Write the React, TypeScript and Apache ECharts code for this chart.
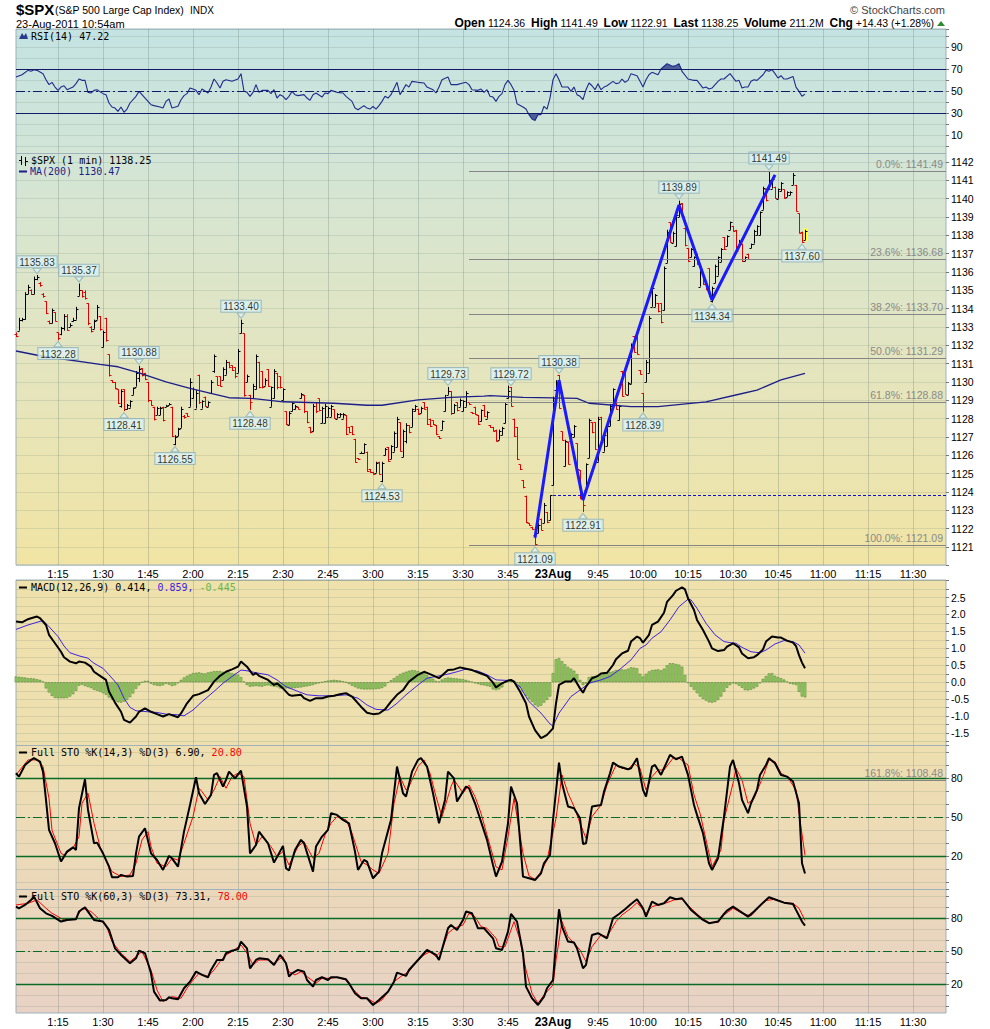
import React, { useEffect, useRef } from "react";
import * as echarts from "echarts";

const FONT = "'Liberation Sans', Arial, sans-serif";
const MONO = "'DejaVu Sans Mono', monospace";

// ---- time slots (1-minute) ----
const DAY1_START = 13 * 60 + 1; // 1:01 pm, Aug 22
const DAY1_BARS = 179; // 1:01 .. 3:59
const DAY2_START = 9 * 60 + 30; // 9:30 am, Aug 23
const N_SLOTS = 311; // through 11:41
const CATEGORIES: string[] = [];
for (let i = 0; i < N_SLOTS; i++) {
  const m = i < DAY1_BARS ? DAY1_START + i : DAY2_START + (i - DAY1_BARS);
  let h = Math.floor(m / 60);
  if (h > 12) h -= 12;
  CATEGORIES.push(h + ":" + String(m % 60).padStart(2, "0"));
}
const DAY_BREAK_INDEX = 179;
const DAY_BREAK_LABEL = "23Aug";

// ---- price bars [open, high, low, close] ----
const PRICE_BARS: number[][] = [
  [1132.6,1132.7,1132.45,1132.5],[1132.8,1133.5,1132.8,1133.4],[1133.4,1133.5,1133.3,1133.45],[1133.45,1134.9,1133.4,1134.8],[1134.8,1135.3,1134.8,1135.2],
  [1135.0,1135.05,1134.75,1134.8],[1134.8,1135.75,1134.8,1135.6],[1135.6,1135.83,1135.55,1135.7],[1135.4,1135.45,1135.2,1135.3],[1134.8,1134.85,1134.6,1134.7],
  [1134.4,1134.4,1133.7,1133.75],[1133.3,1133.35,1133.15,1133.2],[1133.2,1134.0,1133.2,1133.9],[1133.8,1133.8,1133.3,1133.35],[1132.7,1132.7,1132.28,1132.4],
  [1132.6,1133.0,1132.55,1132.95],[1132.95,1133.7,1132.8,1133.6],[1133.6,1133.7,1132.8,1132.85],[1133.0,1133.2,1133.0,1133.1],[1133.3,1133.5,1133.3,1133.4],
  [1133.4,1134.1,1133.4,1134.0],[1134.7,1135.37,1134.7,1135.0],[1135.0,1135.0,1134.6,1134.7],[1134.9,1135.0,1134.5,1134.6],[1134.3,1134.3,1133.1,1133.2],
  [1133.0,1133.05,1132.7,1132.8],[1132.9,1133.4,1132.9,1133.3],[1133.4,1134.2,1133.4,1134.1],[1133.6,1133.6,1132.8,1132.9],[1131.9,1132.8,1131.9,1132.7],
  [1133.5,1133.5,1132.2,1132.3],[1131.5,1131.5,1130.3,1130.4],[1130.1,1130.1,1129.95,1130.0],[1130.0,1130.0,1129.6,1129.65],[1129.6,1129.6,1128.8,1128.85],
  [1128.7,1129.6,1128.6,1129.5],[1129.6,1129.6,1128.41,1128.5],[1128.5,1128.8,1128.5,1128.75],[1128.6,1129.0,1128.6,1128.95],[1129.3,1129.7,1129.3,1129.65],
  [1129.75,1130.6,1129.75,1130.5],[1130.2,1130.88,1130.0,1130.7],[1130.75,1130.75,1130.3,1130.4],[1130.5,1130.5,1130.1,1130.15],[1130.0,1130.0,1128.9,1129.0],
  [1129.0,1129.0,1128.7,1128.75],[1128.65,1128.65,1127.9,1128.0],[1128.2,1128.65,1128.2,1128.6],[1128.2,1128.65,1128.2,1128.6],[1128.65,1128.65,1127.85,1127.9],
  [1128.65,1128.75,1128.65,1128.7],[1128.75,1128.85,1128.75,1128.8],[1128.65,1128.65,1127.0,1127.05],[1126.6,1127.1,1126.55,1127.0],[1127.05,1127.5,1127.05,1127.45],
  [1127.5,1128.65,1127.5,1128.5],[1128.15,1128.2,1128.0,1128.1],[1128.3,1128.3,1128.1,1128.15],[1128.65,1130.2,1128.65,1130.0],[1129.1,1129.7,1129.1,1129.6],
  [1128.55,1129.55,1128.55,1129.4],[1130.4,1130.4,1128.8,1128.9],[1128.55,1129.0,1128.55,1128.95],[1129.2,1129.2,1128.65,1128.7],[1128.65,1128.95,1128.65,1128.9],
  [1129.4,1130.1,1129.4,1130.0],[1130.6,1131.5,1130.5,1131.4],[1130.3,1130.3,1129.8,1129.85],[1130.3,1130.3,1129.75,1129.8],[1130.1,1130.8,1130.1,1130.7],
  [1130.4,1131.2,1130.4,1131.1],[1131.1,1131.1,1130.75,1130.8],[1130.9,1130.9,1130.6,1130.65],[1130.8,1130.8,1130.2,1130.3],[1130.5,1131.8,1130.5,1131.7],
  [1132.65,1133.4,1132.65,1133.2],[1132.65,1132.65,1129.2,1129.3],[1130.0,1130.4,1130.0,1130.3],[1129.3,1129.3,1128.48,1128.9],[1129.1,1129.9,1129.1,1129.8],
  [1129.6,1131.5,1129.6,1131.4],[1131.1,1131.1,1129.65,1129.7],[1130.6,1130.6,1129.65,1129.7],[1129.8,1130.2,1129.8,1130.1],[1130.7,1130.7,1129.75,1129.8],
  [1128.65,1129.75,1128.65,1129.7],[1129.1,1130.7,1129.1,1130.6],[1130.5,1130.5,1129.6,1129.7],[1130.3,1130.3,1129.65,1129.7],[1129.0,1129.65,1129.0,1129.6],
  [1128.4,1128.4,1127.65,1127.7],[1127.65,1128.4,1127.65,1128.3],[1128.4,1128.9,1128.4,1128.85],[1128.5,1128.75,1128.5,1128.7],[1128.65,1128.65,1128.5,1128.55],
  [1129.1,1129.4,1129.1,1129.35],[1129.3,1129.3,1128.3,1128.4],[1128.4,1128.4,1127.75,1127.8],[1127.55,1127.55,1127.2,1127.25],[1127.3,1128.8,1127.3,1128.7],
  [1128.9,1128.9,1128.3,1128.4],[1129.1,1129.1,1128.4,1128.45],[1127.75,1128.65,1127.75,1128.6],[1127.75,1128.8,1127.75,1128.7],[1128.1,1128.65,1128.1,1128.6],
  [1128.1,1128.75,1128.1,1128.7],[1128.5,1128.5,1128.0,1128.05],[1128.0,1128.3,1128.0,1128.25],[1128.1,1128.3,1128.1,1128.25],[1128.0,1128.3,1128.0,1128.25],
  [1128.2,1128.2,1127.1,1127.15],[1127.55,1127.55,1127.2,1127.25],[1127.6,1127.6,1127.1,1127.15],[1126.9,1126.9,1125.6,1125.65],[1125.85,1125.85,1125.75,1125.8],
  [1126.1,1126.2,1126.1,1126.15],[1126.1,1126.65,1126.1,1126.6],[1126.2,1126.2,1125.1,1125.15],[1125.25,1125.25,1125.05,1125.1],[1125.1,1125.1,1124.95,1125.0],
  [1125.05,1125.65,1125.05,1125.6],[1125.65,1125.65,1124.95,1125.0],[1124.6,1125.65,1124.53,1125.6],[1126.0,1126.4,1126.0,1126.35],[1126.45,1126.45,1125.65,1125.7],
  [1125.8,1126.55,1125.8,1126.5],[1126.2,1127.3,1126.2,1127.2],[1126.45,1128.1,1126.45,1128.0],[1127.8,1127.8,1126.2,1126.25],[1125.9,1127.4,1125.9,1127.3],
  [1126.8,1127.75,1126.65,1127.65],[1127.65,1127.65,1127.2,1127.25],[1127.55,1128.55,1127.55,1128.5],[1128.4,1128.75,1128.4,1128.7],[1128.55,1128.55,1128.2,1128.25],
  [1128.3,1128.65,1128.3,1128.6],[1128.9,1128.9,1128.5,1128.55],[1128.65,1128.65,1127.65,1127.7],[1128.0,1128.0,1127.55,1127.6],[1127.9,1127.9,1127.65,1127.7],
  [1127.65,1127.65,1127.1,1127.15],[1127.05,1127.05,1126.9,1126.95],[1127.4,1127.9,1127.4,1127.85],[1128.4,1129.3,1128.4,1129.2],[1129.3,1129.73,1129.3,1129.5],
  [1129.5,1129.5,1128.2,1128.3],[1128.3,1128.8,1128.3,1128.75],[1128.9,1128.9,1128.4,1128.45],[1128.65,1129.1,1128.65,1129.0],[1128.4,1129.0,1128.4,1128.95],
  [1128.65,1129.5,1128.65,1129.4],[1128.9,1128.9,1128.75,1128.8],[1128.35,1128.35,1128.25,1128.3],[1128.65,1128.65,1128.2,1128.25],[1128.2,1128.2,1127.65,1127.7],
  [1127.85,1128.5,1127.85,1128.45],[1128.75,1128.75,1128.1,1128.15],[1128.0,1128.4,1128.0,1128.35],[1127.65,1127.65,1127.5,1127.55],[1127.55,1127.55,1127.3,1127.35],
  [1127.4,1127.4,1126.75,1126.8],[1126.85,1127.4,1126.85,1127.35],[1127.1,1127.55,1127.1,1127.5],[1127.75,1128.85,1127.75,1128.8],[1129.1,1129.8,1129.1,1129.5],
  [1129.72,1129.72,1128.65,1128.7],[1128.0,1128.0,1127.0,1127.05],[1127.55,1127.55,1125.75,1125.8],[1125.5,1125.5,1125.2,1125.25],[1124.65,1124.65,1124.2,1124.25],
  [1123.8,1123.8,1122.3,1122.35],[1122.3,1122.3,1122.15,1122.2],[1122.1,1122.1,1121.95,1122.0],[1121.65,1121.65,1121.09,1121.15],[1121.75,1122.3,1121.75,1122.2],
  [1122.55,1122.55,1121.9,1121.95],[1122.3,1123.4,1122.3,1123.3],[1122.9,1122.9,1122.3,1122.35],[1122.45,1123.82,1122.45,1123.82],
  [1124.36,1129.2,1124.36,1129.1],[1129.55,1130.1,1129.55,1130.0],[1130.38,1130.38,1128.55,1128.6],[1127.3,1127.3,1126.8,1126.85],[1125.4,1126.85,1125.4,1126.8],
  [1126.75,1126.75,1125.5,1125.55],[1126.8,1127.2,1126.8,1127.15],[1127.0,1127.65,1127.0,1127.6],[1126.65,1126.65,1125.2,1125.25],[1125.2,1125.2,1123.6,1123.65],
  [1123.75,1123.75,1122.91,1123.3],[1124.1,1125.56,1124.1,1125.5],[1125.85,1128.0,1125.85,1127.9],[1127.8,1127.8,1127.2,1127.25],[1127.8,1127.8,1126.3,1126.35],
  [1125.65,1128.1,1125.65,1128.0],[1128.1,1128.1,1126.65,1126.7],[1126.2,1127.2,1126.2,1127.1],[1126.5,1127.65,1126.5,1127.6],[1127.6,1128.8,1127.6,1128.7],
  [1128.8,1129.65,1128.8,1129.6],[1129.0,1129.0,1128.5,1128.55],[1127.9,1128.75,1127.9,1128.7],[1130.6,1130.6,1129.2,1129.25],[1130.6,1130.6,1129.3,1129.35],
  [1129.3,1130.0,1129.3,1129.95],[1129.9,1132.1,1129.9,1132.0],[1132.5,1132.5,1131.6,1131.65],[1132.5,1132.5,1131.5,1131.55],[1130.65,1130.65,1130.4,1130.45],
  [1129.4,1129.4,1128.39,1128.9],[1130.0,1131.2,1130.0,1131.1],[1130.5,1133.6,1130.5,1133.5],[1134.1,1135.2,1134.1,1135.1],[1134.1,1134.8,1134.1,1134.75],
  [1134.3,1134.3,1133.8,1133.85],[1134.3,1134.3,1133.2,1133.25],[1133.9,1136.3,1133.9,1136.2],[1136.5,1138.3,1136.5,1138.2],[1138.7,1138.7,1137.6,1137.65],
  [1137.6,1138.2,1137.6,1138.15],[1137.4,1139.2,1137.4,1139.1],[1139.0,1139.89,1139.0,1139.7],[1139.75,1139.75,1139.0,1139.05],[1138.4,1138.4,1137.4,1137.45],
  [1137.3,1137.3,1136.55,1136.6],[1136.8,1137.3,1136.8,1137.25],[1136.3,1136.85,1136.3,1136.8],[1137.0,1137.0,1136.4,1136.45],[1135.2,1136.2,1135.2,1136.1],
  [1136.0,1136.0,1135.3,1135.35],[1135.5,1135.5,1135.0,1135.05],[1136.2,1136.2,1134.65,1134.7],[1134.4,1135.2,1134.34,1135.1],[1135.4,1136.4,1135.4,1136.3],
  [1135.8,1136.85,1135.8,1136.8],[1136.55,1137.3,1136.55,1137.25],[1137.9,1137.9,1137.2,1137.25],[1137.4,1138.0,1137.4,1137.95],[1138.3,1138.75,1138.3,1138.7],
  [1138.5,1138.5,1138.2,1138.25],[1138.3,1138.3,1137.1,1137.15],[1137.4,1137.75,1137.4,1137.7],[1137.55,1137.55,1136.55,1136.6],[1136.6,1136.85,1136.6,1136.8],
  [1137.0,1137.0,1136.65,1136.7],[1137.3,1137.55,1137.3,1137.5],[1137.55,1138.3,1137.55,1138.25],[1138.0,1138.55,1138.0,1138.5],[1138.0,1139.3,1138.0,1139.25],
  [1139.4,1140.65,1139.4,1140.6],[1140.55,1140.55,1139.85,1139.9],[1140.5,1141.49,1140.5,1141.0],[1140.55,1141.1,1140.55,1141.05],[1140.65,1140.65,1140.0,1140.05],
  [1140.0,1140.55,1140.0,1140.5],[1140.4,1140.9,1140.4,1140.85],[1140.5,1140.5,1140.0,1140.05],[1140.1,1140.4,1140.1,1140.35],[1140.2,1140.4,1140.2,1140.35],
  [1140.75,1141.4,1140.75,1141.3],[1140.75,1140.75,1139.3,1139.35],[1139.2,1139.2,1138.1,1138.15],[1138.2,1138.2,1137.6,1137.65],[1137.75,1138.3,1137.75,1138.25],
];
const LAST_BAR = PRICE_BARS.length - 1;
const PREV_CLOSE = 1123.82;

const MA200: number[][] = [
  [0,1131.69],[8,1131.43],[28,1130.96],[34,1130.83],[41,1130.49],[50,1130.01],[58,1129.65],[66,1129.34],[71,1129.14],[78,1129.11],
  [89,1128.92],[106,1128.84],[117,1128.73],[122,1128.73],[134,1129.02],[145,1129.16],[156,1129.23],[158,1129.25],[169,1129.16],[179,1129.13],
  [187,1129.11],[191,1128.84],[205,1128.65],[214,1128.65],[230,1128.92],[241,1129.33],[247,1129.56],[255,1130.11],[263,1130.47],
];

const ZIGZAG: number[][] = [[173,1121.5],[181,1130.1],[189,1123.56],[221,1139.65],[232,1134.47],[253,1141.3]];

const HIGH_LABELS: number[][] = [[7,1135.83],[21,1135.37],[41,1130.88],[75,1133.40],[144,1129.73],[165,1129.72],[181,1130.38],[221,1139.89],[251,1141.49]];
const LOW_LABELS: number[][] = [[14,1132.28],[36,1128.41],[53,1126.55],[78,1128.48],[122,1124.53],[173,1121.09],[189,1122.91],[209,1128.39],[232,1134.34],[262,1137.60]];

const FIB_START = 151;
const FIB_LEVELS: [string, number][] = [
  ["0.0%: 1141.49", 1141.49],["23.6%: 1136.68", 1136.68],["38.2%: 1133.70", 1133.70],
  ["50.0%: 1131.29", 1131.29],["61.8%: 1128.88", 1128.88],["100.0%: 1121.09", 1121.09],
];
const FIB_EXT_LABEL = "161.8%: 1108.48";
const FIB_EXT_STO_LEVEL = 78;

const RSI: number[][] = [
  [0,62.7],[2,64.8],[4,68.8],[5,67.9],[6,69.4],[7,68.8],[9,65.8],[10,60.3],[11,55.8],[12,57.9],[13,53.6],[14,50.6],[15,53.6],[16,54.8],[17,51.2],[19,53.6],[20,56.7],[21,60.9],[22,59.7],[23,59.7],[24,48.8],[25,48.2],[26,50.6],[27,51.2],[29,47.6],[30,46.7],[31,39.1],[32,35.5],[33,34.5],[34,31.5],[35,35.5],[36,30.6],[37,33.6],[38,39.1],[40,45.2],[41,49.7],[42,46.7],[44,40.6],[45,37.6],[46,36.7],[48,35.5],[49,34.5],[50,40.6],[51,42.7],[52,34.5],[54,36.1],[55,42.1],[56,45.8],[57,47.6],[58,52.7],[59,51.8],[60,50.6],[61,46.7],[62,51.8],[64,48.2],[65,53.6],[66,60.9],[67,57.3],[68,52.7],[69,58.8],[70,60.3],[72,58.8],[74,60.9],[75,65.8],[76,49.7],[77,48.8],[78,45.2],[79,48.8],[80,55.8],[81,48.8],[82,50.6],[84,50.6],[85,47.6],[86,51.2],[87,43.6],[88,46.7],[89,45.2],[90,42.1],[91,45.2],[92,49.7],[93,46.7],[94,45.8],[96,46.7],[97,43.6],[98,41.5],[99,46.7],[100,48.2],[102,44.5],[103,48.2],[104,47.6],[105,50.6],[107,48.8],[109,48.2],[110,45.2],[112,40.6],[113,34.5],[114,33.0],[116,36.7],[117,34.5],[118,33.6],[119,36.1],[120,33.6],[121,36.7],[122,40.6],[123,45.2],[124,43.6],[125,46.7],[127,57.9],[128,46.7],[129,51.2],[130,55.8],[131,53.6],[132,58.8],[134,57.9],[136,57.3],[137,53.6],[139,51.2],[140,48.2],[141,53.6],[142,60.3],[144,62.7],[145,55.8],[147,55.8],[149,57.3],[150,57.9],[151,55.8],[152,51.2],[154,50.6],[155,51.8],[156,48.8],[157,51.2],[158,45.2],[159,44.5],[160,40.6],[161,45.2],[162,47.6],[163,55.8],[164,59.7],[165,55.8],[166,50.6],[167,38.5],[169,35.5],[170,33.6],[171,28.5],[172,24.5],[173,23.3],[174,28.5],[175,28.5],[176,36.1],[177,33.6],[178,43.6],[179,60.3],[180,65.8],[181,60.3],[182,53.6],[184,53.6],[185,49.7],[186,53.6],[187,46.7],[188,45.2],[189,42.1],[190,51.2],[191,57.3],[192,54.8],[193,51.2],[194,56.7],[195,51.2],[196,53.6],[197,54.8],[199,58.8],[200,56.7],[201,57.3],[202,60.9],[203,57.9],[204,59.7],[205,65.8],[207,63.9],[208,58.8],[209,53.6],[210,60.3],[211,64.8],[212,67.0],[214,64.8],[215,70.0],[217,74.8],[219,72.4],[220,73.3],[221,74.8],[222,67.9],[224,60.9],[225,60.3],[226,59.7],[227,59.7],[229,52.7],[230,53.6],[231,51.8],[232,52.7],[234,58.8],[235,60.9],[236,60.9],[238,65.8],[240,58.8],[241,59.7],[242,52.7],[243,53.6],[244,53.6],[245,58.8],[246,60.3],[247,59.7],[249,64.8],[250,68.8],[251,67.9],[252,69.4],[253,65.8],[254,61.8],[255,63.9],[256,60.9],[257,60.9],[259,63.3],[260,53.6],[261,49.7],[262,45.2],[263,47.22],
];
const RSI_OVERBOUGHT_FILL: number[][] = [[215,70],[217,74.8],[219,72.4],[220,73.3],[221,74.8],[221.6,70]];
const RSI_OVERSOLD_FILL: number[][] = [[170.7,30],[171,28.5],[172,24.5],[173,23.3],[174,28.5],[175,28.5],[175.2,30]];

const MACD_LINE: number[][] = [
  [0,1.79],[2,1.77],[4,1.86],[5,1.89],[7,1.94],[8,1.89],[10,1.69],[11,1.40],[13,1.15],[15,0.90],[16,0.74],[18,0.61],[20,0.56],[21,0.61],[23,0.58],[25,0.46],[26,0.31],[28,0.19],[30,0.07],[31,-0.27],[33,-0.60],[35,-0.87],[36,-1.11],[38,-1.19],[40,-1.01],[41,-0.87],[43,-0.77],[45,-0.87],[47,-0.94],[49,-1.01],[51,-0.94],[54,-1.03],[55,-0.92],[57,-0.62],[59,-0.40],[61,-0.35],[64,-0.23],[66,0.02],[68,0.19],[70,0.31],[72,0.38],[74,0.46],[75,0.61],[77,0.46],[79,0.22],[80,0.27],[81,0.19],[84,0.07],[86,-0.08],[87,-0.03],[89,-0.18],[91,-0.37],[92,-0.40],[95,-0.37],[96,-0.47],[98,-0.55],[100,-0.47],[102,-0.47],[104,-0.42],[106,-0.40],[108,-0.35],[110,-0.32],[112,-0.42],[115,-0.72],[117,-0.90],[119,-0.94],[121,-0.92],[123,-0.80],[125,-0.57],[127,-0.37],[129,-0.23],[131,0.02],[134,0.22],[136,0.31],[138,0.24],[141,0.12],[144,0.36],[146,0.38],[148,0.44],[150,0.40],[152,0.36],[155,0.26],[157,0.19],[159,-0.01],[160,-0.15],[162,-0.03],[164,0.05],[165,0.07],[166,0.02],[168,-0.27],[170,-0.62],[171,-1.01],[173,-1.41],[175,-1.65],[176,-1.60],[177,-1.55],[179,-1.36],[180,-0.62],[181,-0.08],[183,0.02],[185,0.02],[186,0.12],[188,-0.18],[189,-0.31],[190,-0.13],[192,0.12],[194,0.19],[195,0.26],[197,0.28],[199,0.51],[200,0.68],[202,0.85],[204,0.93],[205,1.20],[207,1.35],[208,1.30],[209,1.17],[211,1.40],[212,1.69],[214,1.79],[216,2.05],[217,2.37],[219,2.57],[220,2.70],[222,2.80],[223,2.74],[224,2.48],[226,2.13],[227,1.84],[229,1.54],[231,1.20],[232,1.00],[234,0.92],[236,0.95],[237,1.05],[239,1.15],[241,1.03],[242,0.85],[244,0.71],[246,0.74],[247,0.80],[249,0.97],[250,1.20],[252,1.35],[254,1.32],[255,1.32],[257,1.23],[259,1.17],[260,1.07],[261,0.80],[262,0.58],[263,0.414],
];
const MACD_SIGNAL: number[][] = [
  [0,1.56],[4,1.69],[7,1.77],[9,1.82],[11,1.64],[14,1.35],[16,1.07],[18,0.87],[21,0.78],[24,0.71],[26,0.56],[29,0.41],[31,0.22],[34,-0.08],[36,-0.47],[38,-0.74],[40,-0.84],[44,-0.87],[47,-0.89],[50,-0.94],[54,-0.96],[56,-0.99],[59,-0.82],[62,-0.57],[66,-0.27],[69,-0.03],[72,0.17],[75,0.36],[77,0.34],[80,0.28],[84,0.22],[87,0.07],[90,-0.13],[94,-0.27],[97,-0.37],[101,-0.40],[106,-0.40],[110,-0.37],[114,-0.47],[117,-0.67],[120,-0.80],[124,-0.82],[127,-0.62],[130,-0.37],[134,-0.08],[137,0.12],[140,0.17],[144,0.24],[147,0.31],[150,0.39],[154,0.33],[157,0.22],[160,0.07],[165,0.05],[168,-0.13],[171,-0.57],[175,-0.91],[178,-1.23],[179,-1.29],[181,-0.91],[185,-0.42],[188,-0.23],[191,-0.03],[195,0.07],[198,0.17],[201,0.36],[205,0.66],[208,1.00],[210,1.10],[212,1.30],[215,1.49],[218,1.84],[221,2.23],[224,2.45],[225,2.43],[227,2.18],[230,1.74],[233,1.40],[236,1.20],[238,1.17],[240,1.15],[242,1.03],[245,0.90],[248,0.87],[250,0.95],[253,1.13],[256,1.23],[259,1.20],[261,1.10],[263,0.859],
];
const MACD_HIST: number[] = [
  0.17,0.16,0.15,0.14,0.12,0.12,0.11,0.09,0.07,0.02,
  -0.18,-0.30,-0.40,-0.46,-0.47,-0.47,-0.47,-0.46,-0.42,-0.35,
  -0.25,-0.10,-0.07,-0.11,-0.14,-0.17,-0.22,-0.25,-0.28,-0.32,
  -0.37,-0.45,-0.51,-0.56,-0.59,-0.60,-0.57,-0.52,-0.44,-0.33,
  -0.19,-0.09,0.00,0.04,0.04,-0.04,-0.08,-0.10,-0.11,-0.09,
  -0.04,-0.07,-0.11,-0.09,-0.03,0.07,0.14,0.19,0.23,0.27,
  0.28,0.29,0.27,0.26,0.29,0.31,0.33,0.33,0.33,0.31,
  0.30,0.29,0.27,0.25,0.22,0.15,0.02,-0.08,-0.13,-0.12,
  -0.11,-0.12,-0.13,-0.10,-0.09,-0.11,-0.13,-0.14,-0.18,-0.18,
  -0.18,-0.18,-0.18,-0.17,-0.16,-0.15,-0.13,-0.12,-0.10,-0.08,
  -0.05,-0.03,0.00,0.03,0.05,0.06,0.07,0.06,0.05,0.03,
  0.00,-0.05,-0.10,-0.14,-0.18,-0.20,-0.21,-0.21,-0.21,-0.21,
  -0.20,-0.19,-0.17,-0.12,-0.02,0.06,0.12,0.18,0.24,0.28,
  0.31,0.34,0.36,0.35,0.33,0.30,0.26,0.21,0.16,0.10,
  0.04,0.02,0.08,0.12,0.14,0.13,0.12,0.11,0.10,0.09,
  0.07,0.04,0.01,-0.03,-0.05,-0.08,-0.09,-0.11,-0.13,-0.21,
  -0.23,-0.21,-0.15,0.00,0.04,0.07,0.04,-0.03,-0.15,-0.27,
  -0.40,-0.50,-0.58,-0.67,-0.72,-0.69,-0.60,-0.52,-0.42,0.27,
  0.68,0.71,0.62,0.53,0.45,0.40,0.34,0.24,0.07,-0.08,
  -0.04,0.15,0.18,0.17,0.18,0.21,0.25,0.27,0.30,0.32,
  0.36,0.37,0.38,0.37,0.40,0.44,0.43,0.41,0.25,0.17,
  0.25,0.32,0.36,0.37,0.38,0.35,0.40,0.50,0.56,0.56,
  0.54,0.52,0.46,0.21,-0.02,-0.13,-0.22,-0.32,-0.42,-0.49,
  -0.54,-0.59,-0.60,-0.58,-0.52,-0.42,-0.28,-0.16,-0.08,-0.03,
  -0.05,-0.10,-0.16,-0.23,-0.24,-0.22,-0.18,-0.13,-0.03,0.10,
  0.18,0.26,0.27,0.19,0.15,0.12,0.08,0.02,-0.04,-0.06,
  -0.08,-0.28,-0.42,-0.445,
];

const STO14_K: number[][] = [
  [0,83.7],[1,81.1],[3,90.0],[5,93.9],[6,95.2],[8,92.6],[9,84.9],[10,63.3],[11,40.3],[13,30.1],[15,16.1],[17,23.7],[19,27.0],[20,25.0],[21,56.9],[23,79.1],[24,55.6],[26,30.1],[27,30.6],[29,22.4],[31,12.2],[32,4.1],[34,4.1],[35,5.9],[37,4.6],[39,5.1],[40,22.4],[41,35.2],[43,41.6],[45,22.4],[47,17.3],[49,9.7],[51,20.4],[52,18.6],[54,12.2],[56,39.0],[58,59.4],[60,80.6],[61,68.4],[63,60.2],[65,67.1],[66,82.4],[67,83.7],[69,73.5],[70,78.6],[71,84.9],[73,79.8],[75,85.7],[77,58.2],[78,22.4],[80,28.8],[81,39.0],[84,30.1],[86,15.3],[89,28.1],[90,11.0],[91,9.2],[93,25.0],[95,32.7],[96,30.1],[99,8.4],[100,27.6],[102,35.2],[104,40.3],[105,53.1],[107,51.8],[109,48.0],[111,45.4],[113,23.7],[114,9.7],[116,17.3],[117,16.1],[119,3.3],[121,8.4],[122,22.4],[125,48.0],[127,88.8],[129,68.4],[130,65.8],[132,84.9],[134,93.9],[135,95.2],[137,88.8],[139,68.4],[141,45.4],[143,63.3],[144,84.9],[146,79.8],[147,62.0],[150,73.5],[151,72.2],[153,60.7],[155,46.7],[157,32.7],[159,13.5],[160,4.6],[162,16.1],[164,45.4],[165,73.5],[167,60.7],[168,32.7],[169,4.6],[171,3.3],[173,2.0],[175,7.1],[176,14.8],[178,21.2],[179,48.0],[181,91.8],[182,76.0],[184,58.2],[186,56.9],[188,49.2],[189,29.6],[190,30.1],[192,58.2],[195,59.4],[196,69.6],[198,83.7],[199,91.8],[201,88.8],[204,86.7],[205,87.5],[207,95.2],[209,70.9],[210,65.8],[212,88.8],[213,90.0],[215,82.4],[216,87.5],[218,97.7],[220,94.4],[222,96.4],[224,82.4],[226,59.4],[227,51.8],[229,37.8],[231,14.8],[232,9.7],[234,18.6],[236,50.5],[238,88.8],[239,93.9],[241,76.0],[242,63.3],[244,53.1],[245,60.7],[247,70.9],[248,82.4],[250,90.0],[251,95.2],[253,91.3],[255,82.4],[257,81.1],[259,77.3],[261,60.7],[262,14.8],[263,6.90],
];
const STO14_D: number[][] = [
  [0,82.4],[4,93.9],[7,93.9],[9,88.8],[11,64.5],[12,40.0],[15,22.4],[16,21.2],[19,26.3],[21,35.2],[22,60.7],[24,68.4],[26,45.4],[28,27.6],[30,17.3],[32,8.4],[35,4.6],[38,5.9],[40,14.8],[42,32.7],[44,39.0],[45,27.6],[47,14.8],[50,12.2],[52,18.6],[54,17.3],[56,30.1],[59,50.5],[61,72.2],[62,69.6],[64,63.3],[66,70.9],[68,81.1],[70,72.2],[72,81.1],[74,83.7],[76,81.1],[78,45.4],[80,28.8],[82,35.2],[85,27.6],[87,19.9],[89,23.7],[91,13.5],[94,27.6],[96,31.4],[99,18.6],[101,22.4],[103,36.5],[105,45.4],[107,50.5],[110,48.0],[112,37.8],[115,16.1],[117,13.5],[119,9.7],[121,7.1],[124,22.4],[126,60.7],[128,81.1],[130,70.9],[131,73.5],[134,88.8],[136,93.9],[138,83.7],[140,65.8],[142,50.5],[145,73.5],[146,78.6],[149,68.4],[151,74.7],[153,65.8],[155,53.1],[157,36.5],[160,12.0],[162,9.7],[164,35.2],[166,64.5],[167,50.5],[169,22.4],[171,5.1],[173,2.5],[175,8.4],[177,17.3],[180,49.2],[182,82.4],[184,68.4],[186,58.2],[188,45.4],[190,33.9],[192,50.5],[195,59.4],[197,74.7],[200,90.0],[202,87.5],[204,86.7],[206,91.3],[208,87.5],[210,70.9],[212,81.1],[214,86.2],[216,86.2],[219,95.2],[221,95.2],[224,90.0],[226,67.1],[228,53.1],[230,32.7],[232,12.2],[235,25.0],[236,48.0],[239,76.0],[240,87.5],[242,78.6],[244,60.7],[246,64.3],[249,81.1],[251,93.9],[253,92.6],[255,83.7],[257,81.1],[260,70.9],[261,53.1],[263,20.80],
];
const STO60_K: number[][] = [
  [0,90.6],[1,89.1],[3,92.1],[5,96.7],[6,99.7],[8,89.1],[10,84.5],[12,82.1],[15,77.0],[17,78.5],[20,79.1],[21,86.1],[23,90.0],[24,86.1],[26,78.5],[29,77.0],[31,69.4],[33,52.7],[35,46.7],[38,39.1],[40,43.6],[41,50.6],[43,48.2],[45,30.0],[46,13.3],[48,5.2],[50,5.8],[51,8.2],[52,7.3],[54,6.4],[56,16.4],[58,22.4],[60,31.5],[62,28.5],[64,26.4],[65,33.0],[67,42.1],[69,42.1],[70,48.2],[72,50.6],[74,51.8],[75,58.8],[77,52.7],[78,34.5],[80,42.1],[81,43.6],[84,42.7],[86,37.6],[88,46.7],[90,39.1],[91,27.0],[92,30.0],[94,33.0],[96,31.5],[97,23.9],[99,17.9],[100,23.9],[102,26.4],[104,23.9],[105,26.4],[107,26.4],[110,24.5],[111,20.9],[113,11.8],[115,7.3],[117,7.3],[119,1.2],[121,5.8],[124,13.3],[126,22.4],[127,30.6],[130,27.6],[131,33.0],[134,42.1],[136,48.2],[137,51.2],[140,46.7],[141,42.1],[144,70.9],[145,73.9],[147,69.4],[149,78.5],[150,86.1],[152,84.5],[154,70.9],[156,70.9],[159,61.8],[160,52.7],[162,51.2],[164,67.9],[165,83.9],[167,77.0],[169,48.2],[170,17.9],[172,7.3],[174,1.2],[176,8.8],[177,16.4],[179,23.9],[180,57.3],[181,88.2],[182,72.4],[184,58.8],[186,57.9],[187,52.7],[189,34.5],[190,37.6],[192,64.8],[194,66.4],[196,63.3],[197,61.8],[199,80.0],[201,83.9],[203,88.2],[205,93.0],[207,97.3],[209,89.1],[210,81.5],[212,95.2],[214,92.1],[216,93.6],[218,99.1],[220,97.3],[222,98.2],[225,87.6],[227,83.0],[229,78.5],[231,75.5],[234,77.0],[236,83.9],[237,87.0],[239,90.6],[241,87.0],[244,81.5],[246,86.1],[249,94.2],[251,99.1],[254,96.1],[256,94.2],[259,93.0],[260,87.6],[262,77.0],[263,73.31],
];
const STO60_D: number[][] = [
  [0,92.1],[4,93.6],[7,96.7],[10,89.1],[12,84.5],[16,78.5],[20,80.0],[22,89.1],[25,86.1],[28,78.5],[30,73.9],[32,58.8],[35,48.2],[38,40.6],[40,45.2],[42,49.7],[45,33.0],[47,14.8],[49,4.2],[52,8.8],[55,7.3],[57,16.4],[59,23.9],[61,30.0],[64,27.0],[66,33.0],[68,40.6],[70,46.7],[72,49.7],[75,55.8],[77,48.2],[79,37.6],[81,42.1],[84,42.1],[86,39.1],[89,45.2],[91,31.5],[93,28.5],[95,31.5],[97,27.0],[100,20.9],[102,25.5],[105,25.5],[107,26.4],[110,23.9],[112,16.4],[115,8.2],[117,7.3],[120,2.7],[122,5.8],[124,13.3],[126,22.4],[129,28.5],[131,31.5],[133,39.1],[136,46.7],[138,49.7],[140,45.2],[142,51.2],[144,66.4],[146,70.9],[149,73.9],[151,84.5],[153,81.5],[155,72.4],[157,70.9],[160,61.8],[161,54.2],[163,54.2],[165,69.4],[166,77.0],[168,60.3],[170,33.0],[172,11.8],[174,2.7],[176,10.3],[179,19.4],[180,42.1],[182,77.0],[184,63.3],[186,57.3],[188,51.2],[190,40.6],[192,54.2],[195,64.8],[197,63.3],[200,77.0],[202,83.0],[205,89.1],[207,94.2],[210,84.5],[212,90.6],[214,92.1],[217,94.2],[220,97.3],[222,97.3],[225,89.1],[228,81.5],[231,76.1],[234,76.1],[236,83.0],[239,89.1],[242,84.5],[245,82.1],[247,88.2],[250,96.1],[253,97.3],[256,94.2],[259,93.6],[261,89.1],[263,78.00],
];

// ---- layout ----
const L = 16, R = 44;
const PANELS = {
  rsi: { top: 29, height: 117, min: 0, max: 106.4, interval: 10 },
  price: { top: 153, height: 412.3, min: 1120, max: 1142.49, interval: 1 },
  macd: { top: 580, height: 161.6, min: -1.75, max: 3.017, interval: 0.25 },
  sto1: { top: 745, height: 137.6, min: 0, max: 105.3, interval: 10 },
  sto2: { top: 889, height: 117.3, min: 0, max: 106.6, interval: 10 },
};

function minuteOf(v: string) { return parseInt(v.split(":")[1], 10); }
const showTime = (idx: number, v: string) => idx > 0 && minuteOf(v) % 15 === 0;

export default function App() {
  const ref = useRef<HTMLDivElement>(null);
  useEffect(() => {
    if (!ref.current) return;
    const chart = echarts.init(ref.current, undefined, { renderer: "svg" });
    const vGrid = "rgba(80,105,95,0.24)";
    const hGrid = "rgba(80,105,95,0.15)";
    const border = "#9fb1b9";

    const bgGrid = (top: number, height: number, colors: [number, string][]) => ({
      left: L, right: R, top, height, show: true, containLabel: false, outerBoundsMode: "none",
      borderColor: border, borderWidth: 1,
      backgroundColor: new echarts.graphic.LinearGradient(0, 0, 0, 1, colors.map(([o, c]) => ({ offset: o, color: c }))),
    });
    const dataGrid = (p: any) => ({ left: L, right: R, top: p.top, height: p.height, show: false, containLabel: false, outerBoundsMode: "none" });

    const grids = [
      bgGrid(29, 536, [[0, "#c4e3e2"], [0.23, "#d2e5d7"], [0.6, "#e3e5c1"], [1, "#f1e4a4"]]),
      bgGrid(580, 433, [[0, "#efe1ab"], [0.38, "#eedfb0"], [0.71, "#ebd8ba"], [1, "#e8d2c5"]]),
      dataGrid(PANELS.rsi), dataGrid(PANELS.price), dataGrid(PANELS.macd), dataGrid(PANELS.sto1), dataGrid(PANELS.sto2),
    ];

    const bgXAxis = (gi: number) => ({
      type: "category", gridIndex: gi, data: CATEGORIES, boundaryGap: false,
      axisLine: { show: false }, axisTick: { show: false },
      splitLine: { show: true, interval: (i: number, v: string) => showTime(i, v), lineStyle: { color: vGrid, width: 1 } },
      axisLabel: {
        show: true, interval: (i: number, v: string) => showTime(i, v),
        margin: 3, fontSize: 11, fontFamily: FONT, color: "#000",
        formatter: (v: string, i: number) => (i === DAY_BREAK_INDEX ? "{d|" + DAY_BREAK_LABEL + "}" : v),
        rich: { d: { fontWeight: "bold", fontSize: 12, fontFamily: FONT, color: "#000" } },
      },
    });
    const dataXAxis = (gi: number) => ({
      type: "category", gridIndex: gi, data: CATEGORIES, boundaryGap: false,
      axisLine: { show: false }, axisTick: { show: false }, axisLabel: { show: false }, splitLine: { show: false },
    });
    const xAxis = [bgXAxis(0), bgXAxis(1), dataXAxis(2), dataXAxis(3), dataXAxis(4), dataXAxis(5), dataXAxis(6)];

    const yLab = (fmt: (v: number) => string) => ({
      show: true, margin: 5, fontSize: 10.5, fontFamily: FONT, color: "#000", formatter: fmt,
    });
    const dataYAxis = (gi: number, p: any, fmt: (v: number) => string) => ({
      type: "value", gridIndex: gi, position: "right", min: p.min, max: p.max, interval: p.interval,
      axisLine: { show: false },
      axisTick: { show: true, length: 3, lineStyle: { color: "#777" } },
      splitLine: { show: true, lineStyle: { color: hGrid, width: 1 } },
      axisLabel: yLab(fmt),
    });
    const yAxis = [
      { type: "value", gridIndex: 0, show: false, min: 0, max: 1, splitLine: { show: false } },
      { type: "value", gridIndex: 1, show: false, min: 0, max: 1, splitLine: { show: false } },
      dataYAxis(2, PANELS.rsi, (v) => ([10, 30, 50, 70, 90].indexOf(Math.round(v)) >= 0 ? String(Math.round(v)) : "")),
      dataYAxis(3, PANELS.price, (v) => (Math.round(v) > 1120 ? String(Math.round(v)) : "")),
      dataYAxis(4, PANELS.macd, (v) => {
        const d = Math.round(v * 4);
        return d % 2 === 0 && v < 2.9 && v > -1.6 ? v.toFixed(1) : "";
      }),
      dataYAxis(5, PANELS.sto1, (v) => ([20, 50, 80].indexOf(Math.round(v)) >= 0 ? String(Math.round(v)) : "")),
      dataYAxis(6, PANELS.sto2, (v) => ([20, 50, 80].indexOf(Math.round(v)) >= 0 ? String(Math.round(v)) : "")),
    ];

    const hLine = (y: number, color: string, type: any, width = 1.2) => ({
      yAxis: y, lineStyle: { color, type, width },
    });
    const DASHDOT = [9, 3, 2, 3];
    const mlBase = { silent: true, symbol: ["none", "none"], label: { show: false } };

    const labelStyle = {
      show: true, fontSize: 10, fontFamily: FONT, color: "#000", backgroundColor: "#dcf2f2",
      borderColor: "#8fb0b8", borderWidth: 1, padding: [1, 2, 0, 2], lineHeight: 10,
      formatter: (p: any) => Number(p.value[1]).toFixed(2),
    };

    const series: any[] = [
      // RSI
      {
        type: "line", xAxisIndex: 2, yAxisIndex: 2, data: RSI_OVERBOUGHT_FILL, symbol: "none", silent: true,
        lineStyle: { width: 0 }, areaStyle: { origin: 70, color: "#4d5f98", opacity: 1 }, z: 3,
      },
      {
        type: "line", xAxisIndex: 2, yAxisIndex: 2, data: RSI_OVERSOLD_FILL, symbol: "none", silent: true,
        lineStyle: { width: 0 }, areaStyle: { origin: 30, color: "#4d5f98", opacity: 1 }, z: 3,
      },
      {
        type: "line", xAxisIndex: 2, yAxisIndex: 2, data: RSI, symbol: "none", silent: true, z: 4,
        lineStyle: { color: "#1f2b8c", width: 1.1 },
        markLine: { ...mlBase, data: [hLine(70, "#101a66", "solid", 1.1), hLine(30, "#101a66", "solid", 1.1), hLine(50, "#101a66", DASHDOT, 1)] },
      },
      // Price bars
      {
        type: "custom", xAxisIndex: 3, yAxisIndex: 3, silent: true, z: 4,
        data: PRICE_BARS.map((b, i) => [i, b[0], b[1], b[2], b[3]]),
        encode: { x: 0, y: [1, 2, 3, 4] },
        renderItem: (params: any, api: any) => {
          const i = api.value(0);
          const o = api.value(1), h = api.value(2), l = api.value(3), c = api.value(4);
          const ph = api.coord([i, h]), pl = api.coord([i, l]), po = api.coord([i, o]), pc = api.coord([i, c]);
          const x = Math.round(ph[0]) + 0.5;
          const y1 = ph[1];
          let y2 = pl[1];
          if (y2 - y1 < 1.5) y2 = y1 + 1.5;
          const col = c >= o ? "#000000" : "#e00000";
          const yo = Math.round(po[1]) + 0.5, yc = Math.round(pc[1]) + 0.5;
          const children: any[] = [];
          if (i === LAST_BAR) {
            children.push({ type: "rect", shape: { x: x - 2.5, y: y1 - 1.5, width: 5, height: y2 - y1 + 3 }, style: { fill: "#ffff33" } });
          }
          children.push({ type: "line", shape: { x1: x, y1, x2: x, y2 }, style: { stroke: col, lineWidth: 1 } });
          children.push({ type: "line", shape: { x1: x - 2, y1: yo, x2: x, y2: yo }, style: { stroke: col, lineWidth: 1 } });
          children.push({ type: "line", shape: { x1: x, y1: yc, x2: x + 2, y2: yc }, style: { stroke: col, lineWidth: 1 } });
          return { type: "group", children };
        },
        markLine: {
          ...mlBase,
          data: [
            ...FIB_LEVELS.map(([txt, v]) => [
              {
                coord: [FIB_START, v], lineStyle: { color: "#858585", width: 1, type: "solid" },
                label: { show: true, position: "insideEndTop", formatter: txt, color: "#8a8a8a", fontSize: 10.5, fontFamily: FONT, distance: [3, 2] },
              },
              { coord: [N_SLOTS - 1, v] },
            ]),
            [
              { coord: [DAY_BREAK_INDEX, PREV_CLOSE], lineStyle: { color: "#1010d0", width: 1, type: [3, 2] } },
              { coord: [N_SLOTS - 1, PREV_CLOSE] },
            ],
          ],
        },
      },
      {
        type: "line", xAxisIndex: 3, yAxisIndex: 3, data: MA200, symbol: "none", silent: true, z: 5,
        lineStyle: { color: "#1c1f8a", width: 1.3 },
      },
      {
        type: "line", xAxisIndex: 3, yAxisIndex: 3, data: ZIGZAG, symbol: "none", silent: true, z: 6,
        lineStyle: { color: "#1a1aff", width: 3 },
      },
      {
        type: "scatter", xAxisIndex: 3, yAxisIndex: 3, data: HIGH_LABELS, silent: true, z: 7,
        symbol: "triangle", symbolRotate: 180, symbolSize: [8, 5], symbolOffset: [0, -4],
        itemStyle: { color: "#dcf2f2", borderColor: "#8fb0b8", borderWidth: 1 },
        label: { ...labelStyle, position: "top", distance: 1 },
      },
      {
        type: "scatter", xAxisIndex: 3, yAxisIndex: 3, data: LOW_LABELS, silent: true, z: 7,
        symbol: "triangle", symbolSize: [8, 5], symbolOffset: [0, 4],
        itemStyle: { color: "#dcf2f2", borderColor: "#8fb0b8", borderWidth: 1 },
        label: { ...labelStyle, position: "bottom", distance: 1 },
      },
      // MACD
      {
        type: "bar", xAxisIndex: 4, yAxisIndex: 4, data: MACD_HIST, barWidth: 2.6, silent: true, z: 3,
        itemStyle: { color: "#9cd266", borderColor: "#477a2c", borderWidth: 0.5 },
      },
      {
        type: "line", xAxisIndex: 4, yAxisIndex: 4, data: MACD_SIGNAL, symbol: "none", silent: true, z: 4,
        lineStyle: { color: "#3f22e0", width: 1 },
      },
      {
        type: "line", xAxisIndex: 4, yAxisIndex: 4, data: MACD_LINE, symbol: "none", silent: true, z: 5,
        lineStyle: { color: "#000", width: 2 },
      },
      // STO 14
      {
        type: "line", xAxisIndex: 5, yAxisIndex: 5, data: STO14_D, symbol: "none", silent: true, z: 4,
        lineStyle: { color: "#ff0000", width: 1 },
        markLine: {
          ...mlBase,
          data: [
            hLine(80, "#0b6b26", "solid", 1.3), hLine(20, "#0b6b26", "solid", 1.3), hLine(50, "#0b6b26", DASHDOT, 1.1),
            [
              {
                coord: [FIB_START, FIB_EXT_STO_LEVEL], lineStyle: { color: "#858585", width: 1, type: "solid" },
                label: { show: true, position: "insideEndTop", formatter: FIB_EXT_LABEL, color: "#8a8a8a", fontSize: 10.5, fontFamily: FONT, distance: [3, 2] },
              },
              { coord: [N_SLOTS - 1, FIB_EXT_STO_LEVEL] },
            ],
          ],
        },
      },
      {
        type: "line", xAxisIndex: 5, yAxisIndex: 5, data: STO14_K, symbol: "none", silent: true, z: 5,
        lineStyle: { color: "#000", width: 2 },
      },
      // STO 60
      {
        type: "line", xAxisIndex: 6, yAxisIndex: 6, data: STO60_D, symbol: "none", silent: true, z: 4,
        lineStyle: { color: "#ff0000", width: 1 },
        markLine: { ...mlBase, data: [hLine(80, "#0b6b26", "solid", 1.3), hLine(20, "#0b6b26", "solid", 1.3), hLine(50, "#0b6b26", DASHDOT, 1.1)] },
      },
      {
        type: "line", xAxisIndex: 6, yAxisIndex: 6, data: STO60_K, symbol: "none", silent: true, z: 5,
        lineStyle: { color: "#000", width: 2 },
      },
    ];

    const txt = (x: number, y: number, text: string, font: string, fill = "#000", align = "left", extra: any = {}) => ({
      type: "text", x, y, z: 20, silent: true,
      style: { text, font, fill, align, verticalAlign: "top", ...extra },
    });
    const sep = (y: number) => ({ type: "line", z: 20, silent: true, shape: { x1: L, y1: y, x2: 990 - R, y2: y }, style: { stroke: border, lineWidth: 1 } });
    const dash = (y: number, color: string, w = 2) => ({ type: "line", z: 20, silent: true, shape: { x1: 19, y1: y, x2: 27, y2: y }, style: { stroke: color, lineWidth: w } });

    const graphic = [
      txt(16, 2, "$SPX", `bold 15px ${FONT}`),
      txt(55, 4, "(S&P 500 Large Cap Index)", `10.5px ${FONT}`),
      txt(190, 5, "INDX", `10px ${FONT}`),
      txt(16, 18, "23-Aug-2011 10:54am", `11px ${FONT}`),
      txt(945, 4, "© StockCharts.com", `11px ${FONT}`, "#444", "right"),
      txt(934, 17, "{b|Open} 1124.36  {b|High} 1141.49  {b|Low} 1122.91  {b|Last} 1138.25  {b|Volume} 211.2M  {b|Chg} +14.43 (+1.28%)",
        `10.5px ${FONT}`, "#000", "right",
        { rich: { b: { fontWeight: "bold", fontSize: 12, fontFamily: FONT, fill: "#000" } } }),
      { type: "polygon", z: 20, silent: true, shape: { points: [[937, 26], [941, 21], [945, 26]] }, style: { fill: "#2e8b2e" } },
      sep(153.5), sep(745.5), sep(889.5),
      // RSI legend
      { type: "polygon", z: 20, silent: true, shape: { points: [[19, 39], [22, 33], [24, 36], [26, 33], [28, 39]] }, style: { fill: "#2a3a8c" } },
      txt(31, 31, "RSI(14) 47.22", `10px ${MONO}`),
      // price legend
      { type: "line", z: 20, silent: true, shape: { x1: 21.5, y1: 156, x2: 21.5, y2: 165 }, style: { stroke: "#000", lineWidth: 1 } },
      { type: "line", z: 20, silent: true, shape: { x1: 25.5, y1: 157, x2: 25.5, y2: 166 }, style: { stroke: "#000", lineWidth: 1 } },
      { type: "line", z: 20, silent: true, shape: { x1: 19, y1: 160.5, x2: 21.5, y2: 160.5 }, style: { stroke: "#000", lineWidth: 1 } },
      { type: "line", z: 20, silent: true, shape: { x1: 25.5, y1: 161.5, x2: 28, y2: 161.5 }, style: { stroke: "#000", lineWidth: 1 } },
      txt(31, 155, "$SPX (1 min) 1138.25", `10px ${MONO}`),
      dash(171.5, "#1c1f8a"),
      txt(30, 166, "MA(200) 1130.47", `10px ${MONO}`, "#1c1f8a"),
      // MACD legend
      dash(587.5, "#000"),
      txt(31, 582, "MACD(12,26,9) 0.414, {s|0.859,} {h|-0.445}", `10px ${MONO}`, "#000", "left",
        { rich: { s: { fill: "#3f22e0", font: `10px ${MONO}` }, h: { fill: "#66b84a", font: `10px ${MONO}` } } }),
      // STO legends
      dash(752.5, "#000"),
      txt(31, 747, "Full STO %K(14,3) %D(3) 6.90, {r|20.80}", `10px ${MONO}`, "#000", "left",
        { rich: { r: { fill: "#ff0000", font: `10px ${MONO}` } } }),
      dash(896.5, "#000"),
      txt(31, 891, "Full STO %K(60,3) %D(3) 73.31, {r|78.00}", `10px ${MONO}`, "#000", "left",
        { rich: { r: { fill: "#ff0000", font: `10px ${MONO}` } } }),
    ];

    chart.setOption({
      animation: false,
      backgroundColor: "#ffffff",
      grid: grids,
      xAxis,
      yAxis,
      series,
      graphic,
    });
    return () => chart.dispose();
  }, []);
  return <div ref={ref} style={{ position: "absolute", left: 0, top: 0, width: 990, height: 1029 }} />;
}
